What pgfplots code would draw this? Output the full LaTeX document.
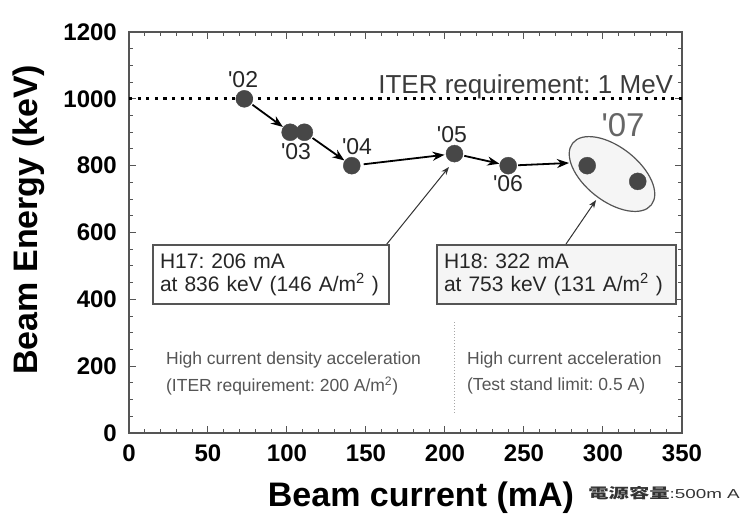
\documentclass[border=0pt]{standalone}
\usepackage{fontspec}
\setmainfont{Liberation Sans}
\newfontfamily\cjk{Noto Sans CJK JP}
\usepackage{pgfplots}
\pgfplotsset{compat=1.18}
\usetikzlibrary{arrows.meta,shapes.geometric}
\definecolor{ptc}{HTML}{474747}
\definecolor{framec}{HTML}{555555}
\definecolor{txtc}{HTML}{555555}
\frenchspacing
\begin{document}
\begin{tikzpicture}
\useasboundingbox (-129pt,-83pt) rectangle (613pt,433pt);
\begin{axis}[at={(0pt,0pt)}, anchor=south west, scale only axis,
  width=553pt, height=401pt,
  xmin=0, xmax=350, ymin=0, ymax=1200, clip=false,
  xtick={0,50,...,350}, ytick={0,200,...,1200},
  minor x tick num=4, minor y tick num=3,
  tick align=inside, major tick length=7pt, minor tick length=4pt,
  every tick/.style={framec, line width=1pt},
  axis line style={framec, line width=1.6pt},
  /pgf/number format/assume math mode=true,
  /pgf/number format/1000 sep={},
  ticklabel style={font=\fontsize{24}{24}\selectfont\bfseries, inner sep=0pt},
  yticklabel style={anchor=east, xshift=-12pt},
  xticklabel style={anchor=north, yshift=-12pt},
  xlabel={Beam current (mA)},
  ylabel={Beam Energy (keV)},
  xlabel style={font=\fontsize{34}{34}\selectfont\bfseries, at={(axis description cs:0.528,0)}, anchor=base, yshift=-74pt},
  ylabel style={font=\fontsize{34}{34}\selectfont\bfseries, at={(axis description cs:-0.181,0.532)}, anchor=center},
]
% ITER requirement line
\addplot[black, line width=3.2pt, dash pattern=on 3.2pt off 5.4pt] coordinates {(0,1000) (350,1000)};
\node[anchor=base east, font=\fontsize{26}{26}\selectfont, text=txtc!70!black, inner sep=0pt] at (axis cs:344.5,1017) {ITER requirement: 1 MeV};

% ellipse around '07
\node[ellipse, draw=framec, line width=1.2pt, fill=gray!8, rotate=-38, minimum width=100pt, minimum height=54pt, inner sep=0pt] at (axis cs:305.7,775) {};

% arrows
\draw[line width=1.8pt, -{Stealth[length=12pt,width=9pt]}, shorten <=10pt, shorten >=9pt] (axis cs:73,1000) -- (axis cs:102,900);
\draw[line width=1.8pt, -{Stealth[length=12pt,width=9pt]}, shorten <=10pt, shorten >=9pt] (axis cs:111,900) -- (axis cs:141,800);
\draw[line width=1.8pt, -{Stealth[length=12pt,width=9pt]}, shorten <=12pt, shorten >=10pt] (axis cs:141,800) -- (axis cs:206,836);
\draw[line width=1.8pt, -{Stealth[length=12pt,width=9pt]}, shorten <=10pt, shorten >=9pt] (axis cs:206,836) -- (axis cs:240,800);
\draw[line width=1.8pt, -{Stealth[length=12pt,width=9pt]}, shorten <=10pt] (axis cs:240,800) -- (axis cs:278.5,808);

% data points
\addplot[only marks, mark=*, mark size=8.5pt, color=ptc, mark options={fill=ptc, draw=ptc}] coordinates {
  (73,1000) (102,900) (111,900) (141,800) (206,836) (240,800) (290,800) (322,753)};

% year labels
\node[font=\fontsize{23}{23}\selectfont, text=black!85] at (axis cs:72.2,1059) {\textquotesingle 02};
\node[font=\fontsize{23}{23}\selectfont, text=black!85] at (axis cs:105.7,841) {\textquotesingle 03};
\node[font=\fontsize{23}{23}\selectfont, text=black!85] at (axis cs:144.3,856) {\textquotesingle 04};
\node[font=\fontsize{23}{23}\selectfont, text=black!85] at (axis cs:204.4,892) {\textquotesingle 05};
\node[font=\fontsize{23}{23}\selectfont, text=black!85] at (axis cs:239.9,745) {\textquotesingle 06};
\node[font=\fontsize{33}{33}\selectfont, text=black!60] at (axis cs:312.7,922) {\textquotesingle 07};

% callout boxes
\draw[line width=1pt, framec!60!black, -{Stealth[length=8pt,width=6pt]}] (axis cs:162.7,562.6) -- (axis cs:202.5,796);
\draw[line width=1pt, framec!60!black, -{Stealth[length=8pt,width=6pt]}] (axis cs:276.6,565.6) -- (axis cs:295.6,697);
\node[draw=framec, line width=1.6pt, fill=white, minimum width=236pt, minimum height=59pt, text width=222pt, inner xsep=7pt, inner ysep=6pt, align=left, font=\fontsize{21}{23}\selectfont, text=black!85] at (axis cs:89.9,474) {\mbox{H17: 206 mA}\\\mbox{at 836 keV (146 A/m\textsuperscript{2} )}};
\node[draw=framec, line width=1.6pt, fill=gray!8, minimum width=239pt, minimum height=59pt, text width=225pt, inner xsep=7pt, inner ysep=6pt, align=left, font=\fontsize{21}{23}\selectfont, text=black!85] at (axis cs:270.6,474) {\mbox{H18: 322 mA}\\\mbox{at 753 keV (131 A/m\textsuperscript{2} )}};

% divider
\draw[gray!70, line width=1pt, dotted] (axis cs:206.3,60) -- (axis cs:206.3,332);

% region texts
\node[anchor=west, inner sep=0pt, font=\fontsize{17.5}{17.5}\selectfont, text=txtc] at (axis cs:23.4,218) {High current density acceleration};
\node[anchor=west, inner sep=0pt, font=\fontsize{17.5}{17.5}\selectfont, text=txtc] at (axis cs:23.4,140) {(ITER requirement: 200 A/m\textsuperscript{2})};
\node[anchor=west, inner sep=0pt, font=\fontsize{17.5}{17.5}\selectfont, text=txtc] at (axis cs:213.9,218) {High current acceleration};
\node[anchor=west, inner sep=0pt, font=\fontsize{17.5}{17.5}\selectfont, text=txtc] at (axis cs:213.9,140) {(Test stand limit: 0.5 A)};
\end{axis}
\node[anchor=east, inner sep=0pt, text=black!80] at (611pt,-60pt) {\scalebox{1.45}[1]{{\cjk\bfseries\fontsize{14}{14}\selectfont 電源容量}{\fontsize{13}{13}\selectfont :500m A}}};
\end{tikzpicture}
\end{document}
